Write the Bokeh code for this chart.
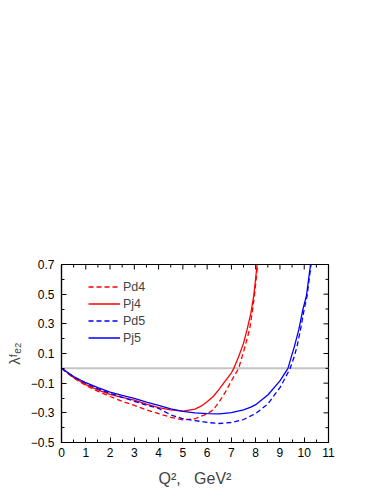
import math
from bokeh.plotting import figure
from bokeh.models import Range1d, FixedTicker, Span, Legend, LegendItem
from bokeh.embed import file_html
from bokeh.resources import INLINE

# ---- data ----
q_pd4 = [0, 0.5, 1, 1.5, 2, 2.5, 3, 3.5, 4, 4.5, 5, 5.5, 6, 6.25, 6.5, 6.75, 7, 7.3, 7.45, 7.6, 7.75, 7.85, 7.95, 8.08]
v_pd4 = [0, -0.065, -0.115, -0.155, -0.19, -0.222, -0.25, -0.28, -0.305, -0.33, -0.347, -0.34, -0.307, -0.28, -0.225, -0.16, -0.085, 0.0, 0.084, 0.17, 0.264, 0.37, 0.489, 0.7]

q_pj4 = [0, 0.25, 0.5, 1, 1.5, 2, 2.5, 3, 3.5, 4, 4.5, 5, 5.5, 5.75, 6, 6.25, 6.5, 6.75, 7, 7.1, 7.3, 7.5, 7.65, 7.8, 7.92, 8.06]
v_pj4 = [0, -0.03, -0.062, -0.11, -0.145, -0.175, -0.195, -0.215, -0.242, -0.265, -0.28, -0.289, -0.275, -0.255, -0.225, -0.19, -0.14, -0.085, -0.03, 0.0, 0.08, 0.17, 0.264, 0.37, 0.489, 0.7]

q_pd5 = [0, 0.5, 1, 1.5, 2, 2.5, 3, 3.5, 4, 4.5, 5, 5.5, 6, 6.5, 7, 7.5, 8, 8.5, 9, 9.2, 9.42, 9.6, 9.72, 9.85, 10.0, 10.12, 10.28]
v_pd5 = [0, -0.058, -0.1, -0.138, -0.168, -0.195, -0.222, -0.248, -0.27, -0.314, -0.34, -0.352, -0.365, -0.372, -0.365, -0.345, -0.305, -0.24, -0.13, -0.07, 0.0, 0.084, 0.16, 0.264, 0.4, 0.489, 0.7]

q_pj5 = [0, 0.5, 1, 1.5, 2, 2.5, 3, 3.5, 4, 4.5, 5, 5.5, 6, 6.5, 7, 7.5, 7.8, 8, 8.5, 9, 9.33, 9.48, 9.6, 9.78, 9.95, 10.09, 10.26]
v_pj5 = [0, -0.055, -0.097, -0.13, -0.16, -0.183, -0.203, -0.228, -0.25, -0.273, -0.29, -0.3, -0.305, -0.307, -0.298, -0.28, -0.262, -0.245, -0.18, -0.085, 0.0, 0.084, 0.15, 0.264, 0.4, 0.489, 0.7]

x_ticks = [0, 1, 2, 3, 4, 5, 6, 7, 8, 9, 10, 11]
x_minor = [0.5, 1.5, 2.5, 3.5, 4.5, 5.5, 6.5, 7.5, 8.5, 9.5, 10.5]
y_ticks = [-0.5, -0.3, -0.1, 0.1, 0.3, 0.5, 0.7]
y_minor = [-0.4, -0.2, 0.0, 0.2, 0.4, 0.6]
x_lo, x_hi = 0, 11
y_lo, y_hi = -0.5, 0.7

FONT = "Liberation Sans"

p = figure(frame_width=267, frame_height=178, output_backend="svg", toolbar_location=None,
           x_range=Range1d(x_lo, x_hi), y_range=Range1d(y_lo, y_hi),
           min_border_left=61, min_border_top=264, min_border_right=40, min_border_bottom=45,
           background_fill_color="white", border_fill_color="white")
p.xgrid.visible = False
p.ygrid.visible = False
p.outline_line_color = "black"
p.outline_line_width = 1.2

p.xaxis.ticker = FixedTicker(ticks=x_ticks, minor_ticks=x_minor)
p.yaxis.ticker = FixedTicker(ticks=y_ticks, minor_ticks=y_minor)

for ax in p.axis:
    ax.major_tick_in = 5
    ax.major_tick_out = 0
    ax.minor_tick_in = 3
    ax.minor_tick_out = 0
    ax.axis_line_color = "black"
    ax.axis_line_width = 1.2
    ax.major_tick_line_color = "black"
    ax.minor_tick_line_color = "black"
    ax.major_label_text_font = FONT
    ax.major_label_text_font_size = "12px"
    ax.major_label_text_color = "black"

p.xaxis.major_label_standoff = 5
p.yaxis.major_label_standoff = 7

p.xaxis.axis_label = "Q\u00b2,\u00a0\u00a0\u00a0GeV\u00b2"
p.xaxis.axis_label_text_font = FONT
p.xaxis.axis_label_text_font_size = "16px"
p.xaxis.axis_label_text_font_style = "normal"
p.xaxis.axis_label_standoff = 10

p.yaxis.axis_label = "\u03bb\u1da0\u2091\u2082"
p.yaxis.axis_label_text_font = FONT
p.yaxis.axis_label_text_font_size = "15px"
p.yaxis.axis_label_text_font_style = "normal"
p.yaxis.axis_label_standoff = 5

# ticks on the top and right frame edges (half of each dash is clipped by the frame)
p.scatter(x_ticks, [y_hi] * len(x_ticks), marker="dash", angle=math.pi / 2, size=10,
          line_color="black", line_width=1)
p.scatter(x_minor, [y_hi] * len(x_minor), marker="dash", angle=math.pi / 2, size=6,
          line_color="black", line_width=1)
p.scatter([x_hi] * len(y_ticks), y_ticks, marker="dash", size=10, line_color="black", line_width=1)
p.scatter([x_hi] * len(y_minor), y_minor, marker="dash", size=6, line_color="black", line_width=1)

# zero line
p.add_layout(Span(location=0, dimension="width", line_color="#c4c4c4", line_width=2, level="underlay"))

r1 = p.line(q_pd4, v_pd4, line_color="#ff0000", line_width=1.3, line_dash="5 3")
r2 = p.line(q_pj4, v_pj4, line_color="#ff0000", line_width=1.3)
r3 = p.line(q_pd5, v_pd5, line_color="#0000ff", line_width=1.3, line_dash="5 3")
r4 = p.line(q_pj5, v_pj5, line_color="#0000ff", line_width=1.3)

legend = Legend(items=[LegendItem(label="Pd4", renderers=[r1]),
                       LegendItem(label="Pj4", renderers=[r2]),
                       LegendItem(label="Pd5", renderers=[r3]),
                       LegendItem(label="Pj5", renderers=[r4])],
                location=(27, 96), glyph_width=32, glyph_height=17, label_height=17,
                label_standoff=3, spacing=0, padding=0, margin=0,
                border_line_color=None, background_fill_alpha=0,
                label_text_font=FONT, label_text_font_size="12.5px")
p.add_layout(legend, "center")

open("out.html", "w").write(file_html(p, INLINE))
